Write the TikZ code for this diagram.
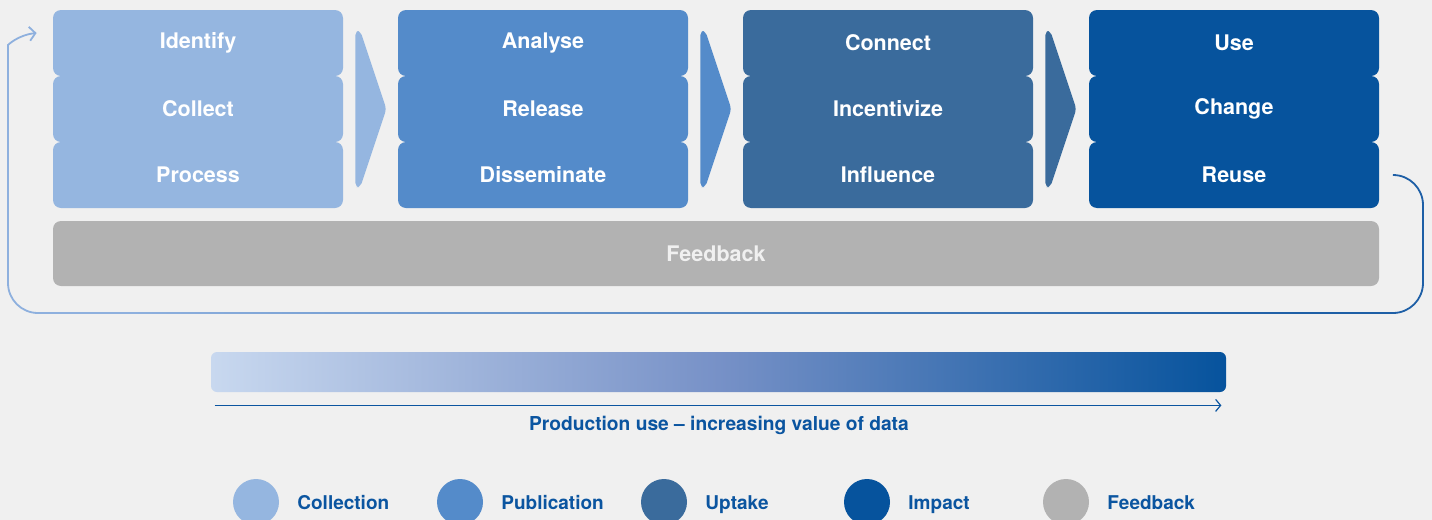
\documentclass[tikz,border=0pt]{standalone}
\usepackage{fontspec}
\setmainfont{TeX Gyre Heros}
\usetikzlibrary{arrows.meta}

\definecolor{bg}{HTML}{F0F0F0}
\definecolor{collection}{HTML}{95B6E0}
\definecolor{publication}{HTML}{548BCA}
\definecolor{uptake}{HTML}{3A6B9C}
\definecolor{impact}{HTML}{06539D}
\definecolor{feedback}{HTML}{B2B2B2}
\definecolor{textblue}{HTML}{0B55A0}
\definecolor{loopdark}{HTML}{1E5FA6}
\definecolor{looplight}{HTML}{8EB0DE}
\definecolor{barlight}{HTML}{C8D8EF}
\definecolor{barmid}{HTML}{7791C7}

\tikzset{
  stage/.style={rectangle, rounded corners=4pt, minimum width=145pt, minimum height=33pt,
    inner sep=0pt, text=white, font=\fontsize{10.75}{12}\selectfont\bfseries},
  chevron/.style={rounded corners=2pt},
  looppart/.style={line width=0.9pt, rounded corners=15pt},
  legenddot/.style={circle, minimum size=23pt, inner sep=0pt},
  legendtext/.style={anchor=base west, inner sep=0pt, text=textblue,
    font=\fontsize{9.5}{11}\selectfont\bfseries},
}

\begin{document}
\begin{tikzpicture}[x=0.5pt,y=-0.5pt]
  \fill[bg] (0,0) rectangle (1432,520);
  \useasboundingbox (0,0) rectangle (1432,520);

  % stages
  \node[stage, fill=collection] (identify) at (198,43) {Identify};
  \node[stage, fill=collection] (collect) at (198,109) {Collect};
  \node[stage, fill=collection] (process) at (198,175) {Process};
  \node[stage, fill=publication] (analyse) at (543,43) {Analyse};
  \node[stage, fill=publication] (release) at (543,109) {Release};
  \node[stage, fill=publication] (disseminate) at (543,175) {Disseminate};
  \node[stage, fill=uptake] (connect) at (888,43) {Connect};
  \node[stage, fill=uptake] (incentivize) at (888,109) {Incentivize};
  \node[stage, fill=uptake] (influence) at (888,175) {Influence};
  \node[stage, fill=impact] (use) at (1234,43) {Use};
  \node[stage, fill=impact] (change) at (1234,109) {Change};
  \node[stage, fill=impact] (reuse) at (1234,175) {Reuse};

  % chevrons between the columns
  \foreach \from/\col in {collect/collection, release/publication, incentivize/uptake}
    \fill[\col, chevron] ([shift={(12,-78)}]\from.east) -- ([shift={(17,-78)}]\from.east)
      -- ([shift={(43,0)}]\from.east) -- ([shift={(17,78)}]\from.east)
      -- ([shift={(12,78)}]\from.east) -- cycle;

  \node[stage, fill=feedback, minimum width=663pt, minimum height=32.5pt, text=bg]
    (feedbackbar) at (716,253.5) {Feedback};

  % feedback loop
  \coordinate (loopstart) at ([xshift=7pt]reuse.east);
  \coordinate (loopend) at ([shift={(-16,-10)}]identify.west);
  \draw[loopdark, looppart] (loopstart) -| (1423,313) -- (1300,313);
  \shade[left color=looplight, right color=loopdark] (130,312.1) rectangle (1300,313.9);
  \draw[looplight, looppart, -{Straight Barb[length=3pt,width=7pt]}]
    (130,313) -| (8,75) .. controls (8,45) and (18,35) .. (loopend);

  % value bar
  \node[rounded corners=3pt, minimum width=507.5pt, minimum height=20pt, inner sep=0pt,
    left color=barlight, right color=impact, middle color=barmid] (valuebar) at (718.5,372) {};
  \draw[textblue, line width=0.6pt, -{Straight Barb[length=2.5pt,width=6pt]}]
    ([shift={(4,13)}]valuebar.south west) -- ([shift={(-5,13)}]valuebar.south east);
  \node[text=textblue, font=\fontsize{9.6}{11}\selectfont\bfseries] (valuetext) at (719,425)
    {Production use -- increasing value of data};

  % legend
  \foreach \x/\col/\name in {256/collection/Collection, 460/publication/Publication,
      664/uptake/Uptake, 867/impact/Impact, 1066/feedback/Feedback} {
    \node[legenddot, fill=\col] (dot\name) at (\x,502) {};
    \node[legendtext] (label\name) at (\x+41,509) {\name};
  }
\end{tikzpicture}
\end{document}
